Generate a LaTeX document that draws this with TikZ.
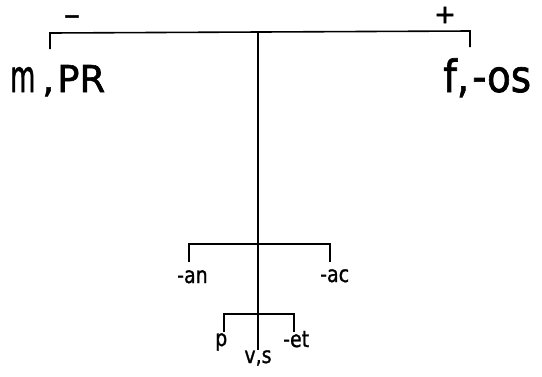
\documentclass[tikz,border=0pt]{standalone}
\usepackage{fontspec}
\setmainfont{DejaVu Sans}
\newfontface\lettbig{DejaVu Sans}[FakeBold=1.6]
\newfontface\lettsmall{DejaVu Sans}[FakeBold=1.2]
\usepackage{graphicx}
\tikzset{
  ln/.style={line width=1.6pt, line cap=butt, line join=miter},
  big/.style={font=\lettbig\fontsize{37}{40}\selectfont, inner sep=0pt},
  small/.style={font=\lettsmall\fontsize{19}{21}\selectfont, inner sep=0pt},
  sign/.style={font=\lettbig\fontsize{26}{28}\selectfont, inner sep=0pt}
}
\newcommand{\stl}[1]{\scalebox{1.0}[1.2]{#1}}
\begin{document}
\begin{tikzpicture}[x=1pt,y=-1pt]
\useasboundingbox (0,0) rectangle (542,376);
% top bracket
\coordinate (tlb) at (50,49);
\coordinate (tl) at (50,33);
\coordinate (tr) at (470,31);
\coordinate (trb) at (470,47);
\coordinate (top) at (258,32);
\coordinate (bot) at (258,350);
% middle bracket
\coordinate (alb) at (189,262);
\coordinate (al) at (189,244);
\coordinate (ar) at (330,244);
\coordinate (arb) at (330,262);
% lower bracket
\coordinate (blb) at (224,332);
\coordinate (bl) at (224,314);
\coordinate (br) at (294,314);
\coordinate (brb) at (294,332);
\draw[ln] (tlb) -- (tl) -- (tr) -- (trb);
\draw[ln] (top) -- (bot);
\draw[ln] (alb) -- (al) -- (ar) -- (arb);
\draw[ln] (blb) -- (bl) -- (br) -- (brb);
% signs
\node[sign] (minus) at (72,20) {\scalebox{0.8}[1]{\char"2212}};
\node[sign] (plus) at (445,15) {+};
% big labels
\node[big, anchor=base west] (mpr) at (10,92) {\scalebox{0.7}[1.2]{m}\hspace{7pt},\hspace{3pt}PR};
\node[big, anchor=base west] (fos) at (443,92) {\scalebox{1.05}[1.2]{f,\hspace{3pt}-os}};
% small labels
\node[small, anchor=base west] (an) at (177,283) {\stl{-an}};
\node[small, anchor=base west] (ac) at (320,282) {\stl{-ac}};
\node[small, anchor=base west] (p) at (215,346) {\stl{p}};
\node[small, anchor=base west] (et) at (283,347) {\stl{-et}};
\node[small, anchor=base] (vs) at (258,363) {\stl{v,s}};
\end{tikzpicture}
\end{document}
